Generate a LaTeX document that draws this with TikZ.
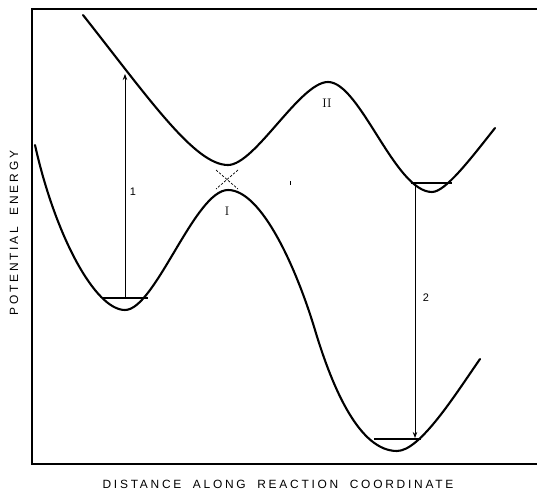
\documentclass[tikz,border=0pt]{standalone}
\usepackage{fontspec}
\newfontfamily\lab[LetterSpace=23,WordSpace=1.9]{Liberation Sans}
\newfontfamily\num{Liberation Sans}
\usetikzlibrary{arrows.meta}
\tikzset{
  curve/.style={line width=2.1pt, line cap=round, line join=round},
  level/.style={line width=1.2pt},
  trans/.style={line width=0.8pt, -{Stealth[length=6pt,width=4.5pt]}},
  frame/.style={line width=1.3pt},
  axislab/.style={font=\fontsize{12}{14}\selectfont\lab, inner sep=0pt},
  numlab/.style={font=\fontsize{11}{13}\selectfont\num, inner sep=0pt},
  romlab/.style={font=\fontsize{12.5}{14}\selectfont, inner sep=0pt},
  xmark/.style={line width=0.7pt, dash pattern=on 2.5pt off 1.5pt}
}
\begin{document}
\begin{tikzpicture}[x=1bp,y=-1bp]
\useasboundingbox (0,0) rectangle (537,491);
% frame
\draw[frame] (537,9) -- (32,9) -- (32,464) -- (537,464);
% lower curve
\draw[curve] (35,145) .. controls (55,235) and (95,310) .. (125,310)
  .. controls (155,310) and (195,190) .. (228,190)
  .. controls (262,190) and (297,270) .. (315,330)
  .. controls (333,390) and (360,451) .. (397,451)
  .. controls (420,451) and (455,395) .. (480,359);
% upper curve
\draw[curve] (83,15) .. controls (150,100) and (195,165) .. (228,165)
  .. controls (255,165) and (300,82) .. (328,82)
  .. controls (360,82) and (395,192) .. (432,192)
  .. controls (445,192) and (469,161) .. (495,128);
% vibrational levels
\draw[level] (103,298) -- (148,298);
\draw[level] (374,439) -- (421,439);
\draw[level] (411,183) -- (452,183);
% avoided crossing
\draw[xmark] (216,170) -- (238,189);
\draw[xmark] (238,170) -- (216,189);
% stray mark
\draw[line width=0.6pt] (290,181) -- (290,185);
% transitions
\coordinate (a1) at (125,298);
\coordinate (b1) at (125,74);
\coordinate (a2) at (415,183);
\coordinate (b2) at (415,438);
\draw[trans] (a1) -- (b1);
\draw[trans] (a2) -- (b2);
\node[numlab] (n1) at (133,192) {1};
\node[numlab] (n2) at (426,298) {2};
\node[romlab] (r1) at (227,211) {I};
\node[romlab] (r2) at (327,103) {II};
% axis labels
\node[axislab] (xl) at (278,484) {DISTANCE ALONG REACTION COORDINATE};
\node[axislab, rotate=90] (yl) at (14,233) {POTENTIAL ENERGY};
\end{tikzpicture}
\end{document}
